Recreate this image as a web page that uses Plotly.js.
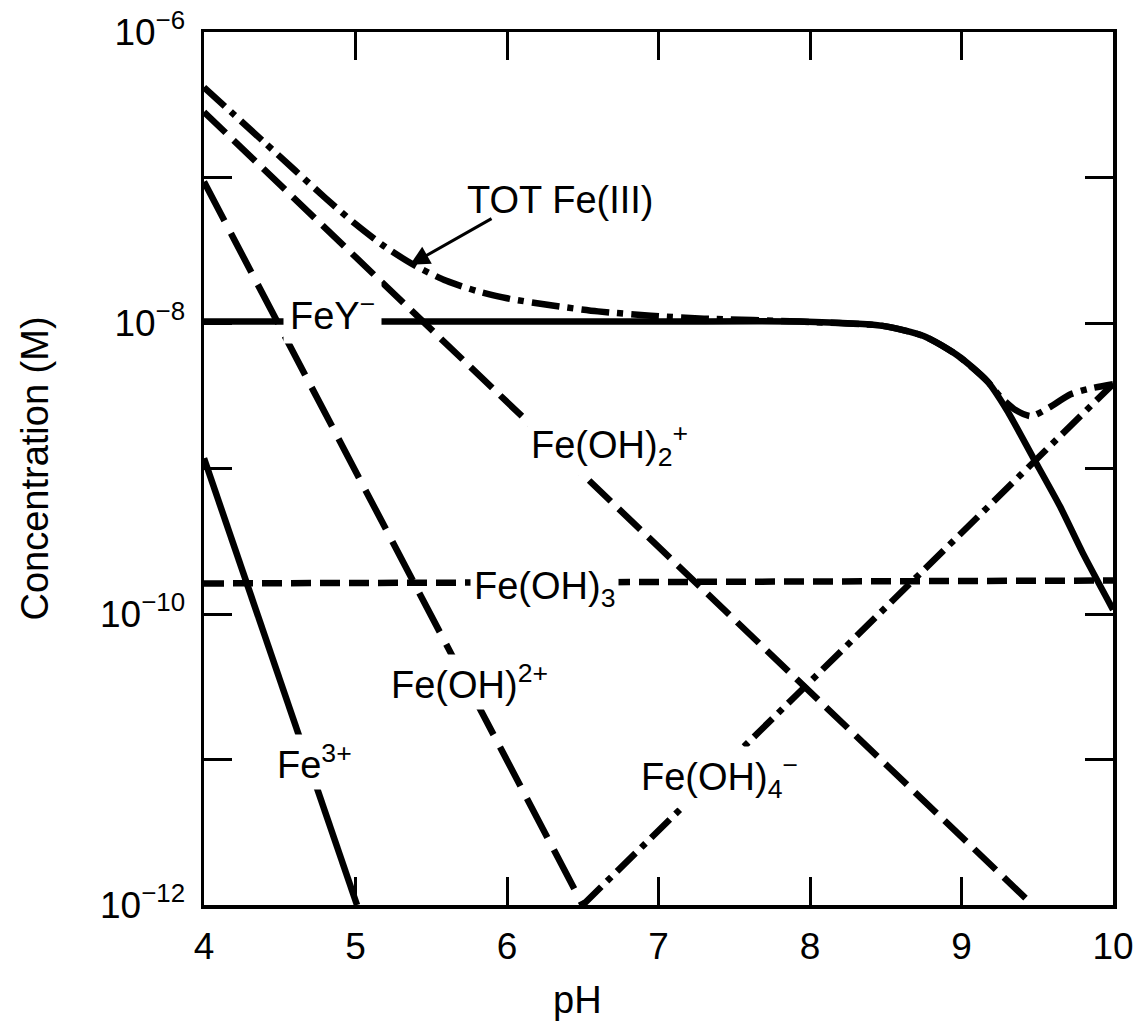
<!DOCTYPE html>
<html>
<head>
<meta charset="utf-8">
<script src="https://cdn.plot.ly/plotly-3.0.1.min.js"></script>
<style>html,body{margin:0;padding:0;background:#fff;}#chart{width:1148px;height:1024px;}</style>
</head>
<body>
<div id="chart"></div>
<script>
// ---- Data (pH vs log10 concentration in M) ----
const pH_Fe3 = [4, 5.01];
const log_Fe3 = [-8.93, -12];

const pH_FeOH2 = [4, 6.5];            // Fe(OH)2+
const log_FeOH2 = [-7.03, -12];

const pH_FeOH2p = [4, 9.47];          // Fe(OH)2 +
const log_FeOH2p = [-6.55, -12];

const pH_FeOH3 = [4, 10];             // Fe(OH)3
const log_FeOH3 = [-9.79, -9.77];

const pH_FeOH4 = [6.5, 10];           // Fe(OH)4 -
const log_FeOH4 = [-12, -8.42];

const pH_FeY = [4, 7, 7.93, 8.48, 8.75, 8.97, 9.17, 9.3, 9.47, 9.65, 9.8, 10];
const log_FeY = [-7.99, -7.99, -7.99, -8.02, -8.09, -8.22, -8.40, -8.60, -8.92, -9.26, -9.58, -9.97];

const pH_TOT = [4, 4.2, 4.4, 4.6, 4.8, 5.0, 5.2, 5.4, 5.6, 5.8, 6.0, 6.3, 6.6, 6.95, 7.3, 7.93, 8.48, 8.75, 8.97, 9.17, 9.25, 9.36, 9.46, 9.58, 9.72, 9.85, 10];
const log_TOT = [-6.38, -6.57, -6.76, -6.95, -7.14, -7.32, -7.48, -7.61, -7.71, -7.78, -7.83, -7.88, -7.92, -7.95, -7.97, -7.99, -8.02, -8.09, -8.22, -8.40, -8.50, -8.60, -8.64, -8.58, -8.49, -8.45, -8.42];

const xTicks = [4, 5, 6, 7, 8, 9, 10];
const xTickText = ['4', '5', '6', '7', '8', '9', '10'];
const yTicks = [1e-12, 1e-11, 1e-10, 1e-9, 1e-8, 1e-7, 1e-6];
const yTickText = ['10<sup>−12</sup>', '', '10<sup>−10</sup>', '', '10<sup>−8</sup>', '', '10<sup>−6</sup>'];

const toConc = a => a.map(v => Math.pow(10, v));
const FONT = '"Liberation Sans", Arial, "DejaVu Sans", sans-serif';
const W = 6.5;

function line(name, x, logy, dash, shape) {
  return {
    type: 'scatter', mode: 'lines', name: name,
    x: x, y: toConc(logy),
    line: {color: '#000', width: W, dash: dash, shape: shape || 'linear', smoothing: 0.7},
    hoverinfo: 'skip', showlegend: false
  };
}

const traces = [
  line('Fe3+', pH_Fe3, log_Fe3, 'solid'),
  line('Fe(OH)2+', pH_FeOH2, log_FeOH2, '44px,14px'),
  line('Fe(OH)2 +', pH_FeOH2p, log_FeOH2p, '30px,11px'),
  line('Fe(OH)3', pH_FeOH3, log_FeOH3, '20px,9px'),
  line('Fe(OH)4 -', pH_FeOH4, log_FeOH4, '26px,8px,6px,8px'),
  line('FeY-', pH_FeY, log_FeY, 'solid', 'spline'),
  line('TOT Fe(III)', pH_TOT, log_TOT, '28px,8px,6px,8px', 'spline')
];

const lf = {family: FONT, size: 38, color: '#000'};
function lab(text, x, y, bg, extra) {
  return Object.assign({
    text: text, x: x, y: y, xref: 'x', yref: 'y', showarrow: false,
    font: lf, bgcolor: bg ? '#fff' : 'rgba(0,0,0,0)', borderpad: 3,
    xanchor: 'center', yanchor: 'middle'
  }, extra || {});
}

const annotations = [
  lab('TOT Fe(III)', 6.35, -7.155, false),
  {text: ' ', x: 5.36, y: -7.6, xref: 'x', yref: 'y', showarrow: true,
   ax: 83, ay: -47, arrowhead: 2, arrowsize: 1.3, arrowwidth: 3, arrowcolor: '#000',
   font: {size: 1}},
  lab('FeY<sup>−</sup>', 4.845, -7.93, true, {borderpad: 6}),
  lab('Fe(OH)<sub>2</sub><sup>+</sup>', 6.13, -8.84, true, {xanchor: 'left'}),
  lab('Fe(OH)<sub>3</sub>', 6.25, -9.83, true),
  lab('Fe(OH)<sup>2+</sup>', 5.75, -10.47, true),
  lab('Fe<sup>3+</sup>', 4.73, -11.02, true),
  lab('Fe(OH)<sub>4</sub><sup>−</sup>', 6.86, -11.12, true, {xanchor: 'left'}),
  {text: 'pH', x: 0.411, y: -0.109, xref: 'paper', yref: 'paper', showarrow: false,
   font: lf, xanchor: 'center', yanchor: 'middle'}
];

const axisCommon = {
  showline: true, linewidth: 3.5, linecolor: '#000', mirror: 'ticks',
  ticks: 'inside', ticklen: 28, tickwidth: 3, tickcolor: '#000',
  showgrid: false, zeroline: false, automargin: false,
  tickfont: {family: FONT, size: 37, color: '#000'}
};

const layout = {
  width: 1148, height: 1024,
  margin: {l: 204, r: 35, t: 32, b: 119},
  paper_bgcolor: '#fff', plot_bgcolor: '#fff',
  showlegend: false,
  font: {family: FONT, color: '#000'},
  xaxis: Object.assign({}, axisCommon, {
    range: [4, 10], tickmode: 'array', tickvals: xTicks, ticktext: xTickText,
    ticklabelstandoff: 6
  }),
  yaxis: Object.assign({}, axisCommon, {
    type: 'log', range: [-12, -6], tickmode: 'array', tickvals: yTicks, ticktext: yTickText,
    ticklabelstandoff: 8,
    title: {text: 'Concentration (M)', font: {family: FONT, size: 38, color: '#000'}, standoff: 40}
  }),
  annotations: annotations
};

Plotly.newPlot('chart', traces, layout, {staticPlot: true, displayModeBar: false});
</script>
</body>
</html>
